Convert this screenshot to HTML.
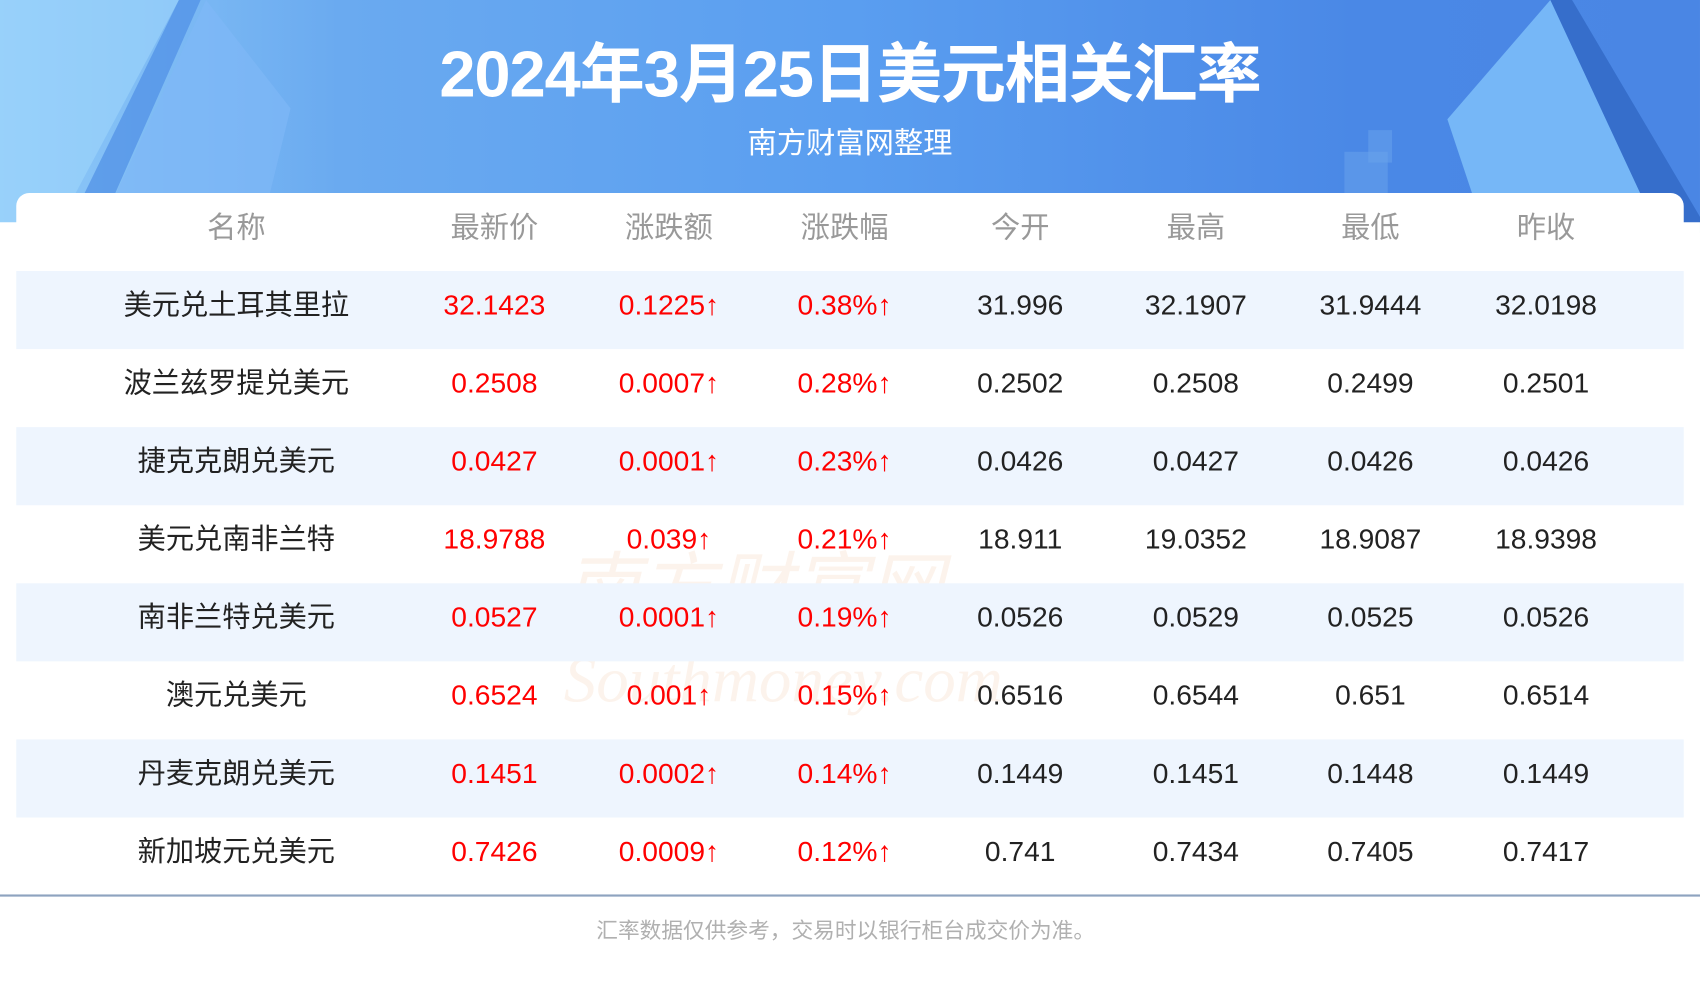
<!DOCTYPE html>
<html><head><meta charset="utf-8"><style>
html,body{margin:0;padding:0;width:1700px;height:1000px;overflow:hidden;background:#fff}
#w{position:absolute;left:0;top:0;width:1568px;height:923px;transform:scale(1.08418);transform-origin:0 0;font-family:"Liberation Sans","Noto Sans CJK SC",sans-serif;overflow:hidden}
#hdr{position:absolute;left:0;top:0;width:1568px;height:215px;background:linear-gradient(90deg,#8fcaf8 0%,#6aaaf0 20%,#5a9ef0 50%,#4a88e6 80%,#4a86e4 100%)}
.sh{position:absolute}
#title{position:absolute;top:20px;left:0;width:1568px;text-align:center;color:#fff;font-weight:bold;font-size:60px;letter-spacing:-1px}
#sub{position:absolute;top:110px;left:0;width:1568px;text-align:center;color:#fff;font-size:27px}
#card{position:absolute;left:15px;top:178px;width:1538px;height:80px;background:#fff;border-radius:12px 12px 0 0}
#low{position:absolute;left:0;top:205px;width:1568px;height:720px;background:#fff}
.row{position:absolute;left:15px;width:1538px;height:72px}
.alt{background:#eef5fe}
.c{position:absolute;top:-5px;width:200px;text-align:center;font-size:26px;line-height:72px;color:#222;white-space:nowrap}
.n{width:300px}
.h .c{color:#999;line-height:64px;font-size:27px;top:0}
.r{color:#f00}
#line{position:absolute;left:0;top:825px;width:1568px;height:2px;background:#8ea3bf}
#foot{position:absolute;top:842px;left:0;width:1560px;text-align:center;color:#b0b0b0;font-size:20px}
#wm{position:absolute;left:520px;top:505px;color:rgba(240,200,170,0.22);font-size:70px;font-family:"Liberation Serif",serif;font-style:italic;line-height:80px}
</style></head><body><div id="w">
<div id="hdr">
<svg class="sh" width="1568" height="215" style="left:0;top:0">
<polygon points="0,0 165,0 50,215 0,215" fill="#9fd6fc" opacity="0.6"/>
<polygon points="165,0 185,0 90,215 60,215" fill="#4f8ee6" opacity="0.7"/>
<polygon points="190,0 268,100 240,215 90,215" fill="#7fb8f6" opacity="0.7"/>
<polygon points="1430,0 1335,110 1370,215 1530,215" fill="#7bbcf8" opacity="0.9"/>
<polygon points="1430,0 1450,0 1568,200 1568,215 1530,215" fill="#3168c4" opacity="0.8"/>
<rect x="1240" y="140" width="40" height="75" fill="#6aa4ec" opacity="0.5"/>
<rect x="1262" y="120" width="22" height="30" fill="#6aa4ec" opacity="0.5"/>
</svg>
<div id="title">2024年3月25日美元相关汇率</div>
<div id="sub">南方财富网整理</div>
</div>
<div id="low"></div>
<div id="card"></div>
<div id="wm">南方财富网<br><span style="font-size:60px">Southmoney.com</span></div>
<div class="row h" style="top:178px">
<div class="c" style="left:103px">名称</div><div class="c" style="left:341px">最新价</div><div class="c" style="left:502px">涨跌额</div><div class="c" style="left:664px">涨跌幅</div><div class="c" style="left:826px">今开</div><div class="c" style="left:988px">最高</div><div class="c" style="left:1149px">最低</div><div class="c" style="left:1311px">昨收</div>
</div>
<div class="row alt" style="top:250px"><div class="c n" style="left:53px">美元兑土耳其里拉</div><div class="c r" style="left:341px">32.1423</div><div class="c r" style="left:502px">0.1225↑</div><div class="c r" style="left:664px">0.38%↑</div><div class="c" style="left:826px">31.996</div><div class="c" style="left:988px">32.1907</div><div class="c" style="left:1149px">31.9444</div><div class="c" style="left:1311px">32.0198</div></div>
<div class="row" style="top:322px"><div class="c n" style="left:53px">波兰兹罗提兑美元</div><div class="c r" style="left:341px">0.2508</div><div class="c r" style="left:502px">0.0007↑</div><div class="c r" style="left:664px">0.28%↑</div><div class="c" style="left:826px">0.2502</div><div class="c" style="left:988px">0.2508</div><div class="c" style="left:1149px">0.2499</div><div class="c" style="left:1311px">0.2501</div></div>
<div class="row alt" style="top:394px"><div class="c n" style="left:53px">捷克克朗兑美元</div><div class="c r" style="left:341px">0.0427</div><div class="c r" style="left:502px">0.0001↑</div><div class="c r" style="left:664px">0.23%↑</div><div class="c" style="left:826px">0.0426</div><div class="c" style="left:988px">0.0427</div><div class="c" style="left:1149px">0.0426</div><div class="c" style="left:1311px">0.0426</div></div>
<div class="row" style="top:466px"><div class="c n" style="left:53px">美元兑南非兰特</div><div class="c r" style="left:341px">18.9788</div><div class="c r" style="left:502px">0.039↑</div><div class="c r" style="left:664px">0.21%↑</div><div class="c" style="left:826px">18.911</div><div class="c" style="left:988px">19.0352</div><div class="c" style="left:1149px">18.9087</div><div class="c" style="left:1311px">18.9398</div></div>
<div class="row alt" style="top:538px"><div class="c n" style="left:53px">南非兰特兑美元</div><div class="c r" style="left:341px">0.0527</div><div class="c r" style="left:502px">0.0001↑</div><div class="c r" style="left:664px">0.19%↑</div><div class="c" style="left:826px">0.0526</div><div class="c" style="left:988px">0.0529</div><div class="c" style="left:1149px">0.0525</div><div class="c" style="left:1311px">0.0526</div></div>
<div class="row" style="top:610px"><div class="c n" style="left:53px">澳元兑美元</div><div class="c r" style="left:341px">0.6524</div><div class="c r" style="left:502px">0.001↑</div><div class="c r" style="left:664px">0.15%↑</div><div class="c" style="left:826px">0.6516</div><div class="c" style="left:988px">0.6544</div><div class="c" style="left:1149px">0.651</div><div class="c" style="left:1311px">0.6514</div></div>
<div class="row alt" style="top:682px"><div class="c n" style="left:53px">丹麦克朗兑美元</div><div class="c r" style="left:341px">0.1451</div><div class="c r" style="left:502px">0.0002↑</div><div class="c r" style="left:664px">0.14%↑</div><div class="c" style="left:826px">0.1449</div><div class="c" style="left:988px">0.1451</div><div class="c" style="left:1149px">0.1448</div><div class="c" style="left:1311px">0.1449</div></div>
<div class="row" style="top:754px"><div class="c n" style="left:53px">新加坡元兑美元</div><div class="c r" style="left:341px">0.7426</div><div class="c r" style="left:502px">0.0009↑</div><div class="c r" style="left:664px">0.12%↑</div><div class="c" style="left:826px">0.741</div><div class="c" style="left:988px">0.7434</div><div class="c" style="left:1149px">0.7405</div><div class="c" style="left:1311px">0.7417</div></div>
<div id="line"></div>
<div id="foot">汇率数据仅供参考，交易时以银行柜台成交价为准。</div>
</div></body></html>
